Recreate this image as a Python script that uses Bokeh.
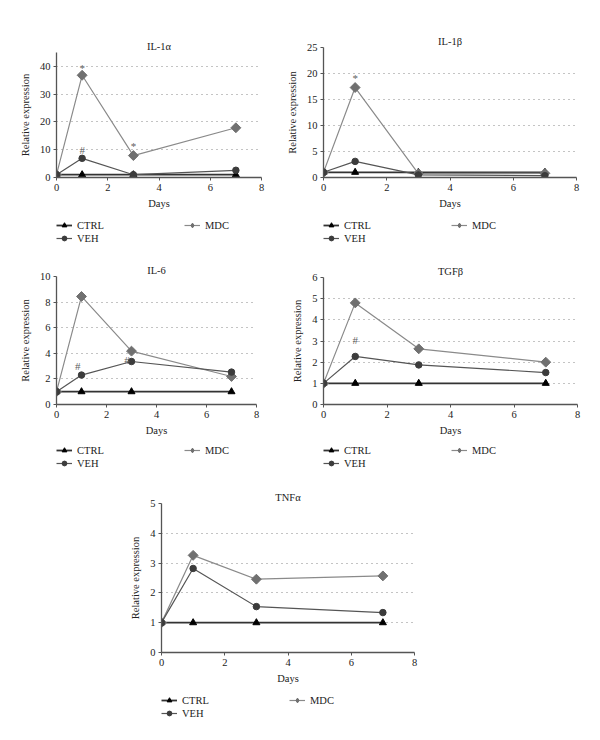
from bokeh.plotting import figure
from bokeh.models import Legend, LegendItem, Range1d, FixedTicker, Spacer
from bokeh.layouts import column, row
from bokeh.embed import file_html
from bokeh.resources import INLINE
from bokeh.core.properties import value

days = [0, 1, 3, 7]
series_names = ["CTRL", "VEH", "MDC"]

il1a_ctrl = [1, 1, 1, 1]
il1a_veh = [1, 6.9, 1.0, 2.6]
il1a_mdc = [1, 36.8, 7.9, 17.9]
il1a_marks_x = [1, 1, 3]
il1a_marks_y = [39.4, 9.8, 11.2]
il1a_marks_t = ["*", "#", "*"]

il1b_ctrl = [1, 1, 1, 1]
il1b_veh = [1, 3.1, 0.5, 0.35]
il1b_mdc = [1, 17.3, 0.75, 0.8]
il1b_marks_x = [1]
il1b_marks_y = [19.2]
il1b_marks_t = ["*"]

il6_ctrl = [1, 1, 1, 1]
il6_veh = [1, 2.3, 3.36, 2.53]
il6_mdc = [1, 8.44, 4.17, 2.19]
il6_marks_x = [0.85, 2.82]
il6_marks_y = [3.0, 3.45]
il6_marks_t = ["#", "#"]

tgfb_ctrl = [1, 1, 1, 1]
tgfb_veh = [1, 2.27, 1.87, 1.51]
tgfb_mdc = [1, 4.8, 2.63, 2.0]
tgfb_marks_x = [1]
tgfb_marks_y = [3.05]
tgfb_marks_t = ["#"]

tnfa_ctrl = [1, 1, 1, 1]
tnfa_veh = [1, 2.82, 1.54, 1.34]
tnfa_mdc = [1, 3.26, 2.46, 2.57]

FONT = "Liberation Serif"
FS = "10.5px"

STY = {
    "CTRL": dict(line_color="#333333", line_width=1.8, marker="triangle", size=7,
                 fill="#000000", leg_marker="triangle"),
    "VEH": dict(line_color="#555555", line_width=1.2, marker="circle", size=6.5,
                fill="#3c3c3c", leg_marker="circle"),
    "MDC": dict(line_color="#8a8a8a", line_width=1.2, marker="square", size=7,
                fill="#707070", leg_marker="diamond"),
}


def legend_fig(width, height, vy, data):
    lf = figure(output_backend="svg", toolbar_location=None, width=width, height=height,
                x_axis_location=None, y_axis_location=None,
                x_range=Range1d(0, 8), y_range=Range1d(0, 1), min_border=0)
    lf.outline_line_color = None
    lf.grid.visible = False
    lf.background_fill_color = "white"
    lf.border_fill_color = "white"
    items = []
    for name in series_names:
        s = STY[name]
        vals = data[name]
        r1 = lf.line(days, vals, line_color=s["line_color"], line_width=s["line_width"],
                     visible=False)
        r2 = lf.scatter(days, vals, marker=s["leg_marker"], size=5.5 if name != "MDC" else 7,
                        fill_color=s["fill"], line_color=s["fill"], visible=False)
        items.append(LegendItem(label=name, renderers=[r1, r2]))
    leg = Legend(items=items, orientation="vertical", nrows=2,
                 location=(0, vy), padding=0, margin=0,
                 border_line_color=None, background_fill_alpha=0,
                 inactive_fill_alpha=0,
                 glyph_width=16, glyph_height=12, label_height=12,
                 label_standoff=5, label_width=106, spacing=1,
                 label_text_font=FONT, label_text_font_size=FS,
                 label_text_color="#222222")
    lf.add_layout(leg)
    return lf


def panel(title, ctrl, veh, mdc, ymax, yticks, marks, fw, fh, bl, br, bt, bb, lh, lvy):
    p = figure(output_backend="svg", toolbar_location=None,
               width=bl + fw + br, height=bt + fh + bb,
               min_border_left=bl, min_border_right=br,
               min_border_top=bt, min_border_bottom=bb,
               x_range=Range1d(0, 8), y_range=Range1d(0, ymax),
               title=title)
    p.outline_line_color = None
    p.background_fill_color = "white"
    p.border_fill_color = "white"
    p.title.text_font = FONT
    p.title.text_font_size = FS
    p.title.text_font_style = "normal"
    p.title.align = "center"
    p.title.text_color = "#222222"
    p.title.standoff = 2
    p.title.offset = 0

    p.xaxis.ticker = FixedTicker(ticks=[0, 2, 4, 6, 8])
    p.yaxis.ticker = FixedTicker(ticks=yticks)
    p.xaxis.axis_label = "Days"
    p.yaxis.axis_label = "Relative expression"
    for ax in (p.xaxis[0], p.yaxis[0]):
        ax.axis_label_text_font = FONT
        ax.axis_label_text_font_size = FS
        ax.axis_label_text_font_style = "normal"
        ax.axis_label_text_color = "#222222"
        ax.major_label_text_font = FONT
        ax.major_label_text_font_size = FS
        ax.major_label_text_color = "#222222"
        ax.axis_line_color = "#555555"
        ax.axis_line_width = 1.3
        ax.major_tick_line_color = "#555555"
        ax.major_tick_out = 3
        ax.major_tick_in = 0
        ax.minor_tick_out = 0
        ax.minor_tick_in = 0
        ax.major_label_standoff = 3
    p.xaxis.axis_label_standoff = 4
    p.yaxis.axis_label_standoff = 6

    p.xgrid.visible = False
    p.ygrid.ticker = FixedTicker(ticks=[t for t in yticks if t != 0])
    p.ygrid.grid_line_color = "#888888"
    p.ygrid.grid_line_dash = "1 4"
    p.ygrid.grid_line_width = 1

    data = {"CTRL": ctrl, "VEH": veh, "MDC": mdc}
    for name in ("CTRL", "MDC", "VEH"):
        s = STY[name]
        vals = data[name]
        p.line(days, vals, line_color=s["line_color"], line_width=s["line_width"])
        ang = 0.785398 if name == "MDC" else 0.0
        p.scatter(days, vals, marker=s["marker"], size=s["size"], angle=ang,
                  fill_color=s["fill"], line_color=s["fill"])

    if marks is not None:
        mx, my, mt = marks
        p.text(x=mx, y=my, text=mt, text_font=value(FONT), text_font_size="11px",
               text_color="#606060", text_align="center", text_baseline="middle")

    lf = legend_fig(bl + fw + br, lh, lvy, data)
    return column(p, lf)


c1 = panel("IL-1\u03b1", il1a_ctrl, il1a_veh, il1a_mdc, 45, [0, 10, 20, 30, 40],
           (il1a_marks_x, il1a_marks_y, il1a_marks_t), 205, 125, 56, 19, 52, 36, 40, 9)
c2 = panel("IL-1\u03b2", il1b_ctrl, il1b_veh, il1b_mdc, 25, [0, 5, 10, 15, 20, 25],
           (il1b_marks_x, il1b_marks_y, il1b_marks_t), 253, 130, 43, 16, 47, 36, 40, 9)
c3 = panel("IL-6", il6_ctrl, il6_veh, il6_mdc, 10, [0, 2, 4, 6, 8, 10],
           (il6_marks_x, il6_marks_y, il6_marks_t), 200, 128, 56, 24, 23, 36, 38, 9)
c4 = panel("TGF\u03b2", tgfb_ctrl, tgfb_veh, tgfb_mdc, 6, [0, 1, 2, 3, 4, 5, 6],
           (tgfb_marks_x, tgfb_marks_y, tgfb_marks_t), 254, 127, 43, 15, 24, 36, 38, 9)
c5 = panel("TNF\u03b1", tnfa_ctrl, tnfa_veh, tnfa_mdc, 5, [0, 1, 2, 3, 4, 5],
           None, 253, 149, 41, 20, 25, 36, 37, 6)

layout = column(row(c1, c2), row(c3, c4), row(Spacer(width=120, height=10), c5))

with open("out.html", "w") as f:
    f.write(file_html(layout, INLINE))
